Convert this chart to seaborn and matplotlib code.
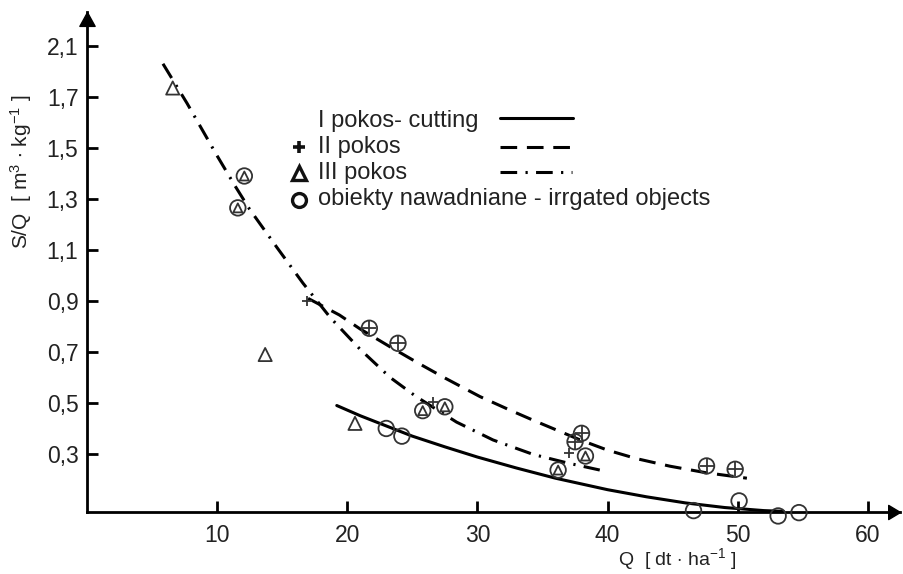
import matplotlib
matplotlib.use("Agg")
import matplotlib.pyplot as plt
import numpy as np
import pandas as pd
import seaborn as sns

# ---------------- data ----------------
# I pokos (irrigated objects only, circles)
q_I = [23.0, 24.2, 46.6, 50.1, 53.1, 54.7]
sq_I = [0.40, 0.37, 0.078, 0.116, 0.057, 0.07]

# II pokos (+), irrigated flag -> drawn inside a circle
q_II = [16.9, 21.7, 23.9, 26.6, 38.0, 37.5, 37.0, 47.6, 49.8]
sq_II = [0.90, 0.793, 0.734, 0.505, 0.381, 0.348, 0.303, 0.253, 0.24]
irr_II = [0, 1, 1, 0, 1, 1, 0, 1, 1]

# III pokos (triangles)
q_III = [6.6, 12.1, 11.6, 13.7, 20.6, 25.8, 27.5, 36.2, 38.3]
sq_III = [1.735, 1.39, 1.265, 0.69, 0.42, 0.47, 0.485, 0.237, 0.292]
irr_III = [0, 1, 1, 0, 0, 1, 1, 1, 1]

# trend curves
curve_I_q = [19.2, 21.0, 23.0, 25.0, 27.5, 30.0, 33.0, 36.0, 40.0, 43.0, 46.0, 49.0, 52.0, 53.5]
curve_I_sq = [0.49, 0.45, 0.41, 0.37, 0.328, 0.288, 0.245, 0.205, 0.16, 0.132, 0.108, 0.09, 0.078, 0.075]

curve_II_q = [17.0, 19.4, 21.0, 23.3, 25.5, 27.5, 30.2, 32.5, 34.3, 37.9, 40.0, 42.2, 44.8, 47.5, 50.7]
curve_II_sq = [0.91, 0.845, 0.79, 0.72, 0.655, 0.598, 0.525, 0.472, 0.432, 0.355, 0.315, 0.282, 0.252, 0.227, 0.205]

curve_III_q = [5.85, 7.7, 10.0, 11.4, 12.5, 14.6, 16.6, 18.7, 21.0, 23.3, 25.3, 28.4, 31.2, 34.3, 36.9, 39.4]
curve_III_sq = [1.83, 1.675, 1.47, 1.35, 1.26, 1.11, 0.97, 0.835, 0.71, 0.60, 0.525, 0.425, 0.355, 0.298, 0.265, 0.237]

x_ticks = [10, 20, 30, 40, 50, 60]
x_tick_labels = ["10", "20", "30", "40", "50", "60"]
y_ticks = [0.3, 0.5, 0.7, 0.9, 1.1, 1.3, 1.5, 1.7, 1.9]
y_tick_labels = ["0,3", "0,5", "0,7", "0,9", "1,1", "1,3", "1,5", "1,7", "2,1"]

legend_labels = ["I pokos- cutting", "II pokos", "III pokos",
                 "obiekty nawadniane - irrgated objects"]

# ---------------- styling ----------------
sns.set_style("ticks")
plt.rcParams["font.family"] = ["Liberation Sans", "DejaVu Sans"]
plt.rcParams["mathtext.fontset"] = "custom"
plt.rcParams["mathtext.rm"] = "Liberation Sans"
plt.rcParams["mathtext.it"] = "Liberation Sans"
plt.rcParams["lines.scale_dashes"] = False

TXT = "#222222"
MK = "#333333"

fig = plt.figure(figsize=(9.04, 5.74), dpi=100)
W, H = 904, 574
x0, y0, x1, y1 = 86.8, 512, 900, 12
ax = fig.add_axes([x0 / W, (H - y0) / H, (x1 - x0) / W, (y0 - y1) / H])
ax.set_xlim(0, 62.46)
ax.set_ylim(0.0725, 2.033)

for s in ["top", "right"]:
    ax.spines[s].set_visible(False)
for s in ["left", "bottom"]:
    ax.spines[s].set_linewidth(2.0)
    ax.spines[s].set_color("black")

# arrow heads on the axes
arrow = [(0, 0), (-1, 0.6), (-1, -0.6), (0, 0)]
ax.plot([1], [0], marker=arrow, ms=17, color="black", transform=ax.transAxes, clip_on=False)
arrow_up = [(0, 0), (0.55, -1), (-0.55, -1), (0, 0)]
ax.plot([0], [1], marker=arrow_up, ms=20, color="black", transform=ax.transAxes, clip_on=False)

# ---------------- curves ----------------
dash_II = (0, (12, 7))
dashdot_III = (0, (12, 6, 1.6, 6))
sns.lineplot(x=curve_I_q, y=curve_I_sq, ax=ax, color="black", lw=2.2, linestyle="-", clip_on=False)
sns.lineplot(x=curve_II_q, y=curve_II_sq, ax=ax, color="black", lw=2.2, linestyle=dash_II)
sns.lineplot(x=curve_III_q, y=curve_III_sq, ax=ax, color="black", lw=2.2, linestyle=dashdot_III)

# ---------------- points ----------------
dfII = pd.DataFrame({"q": q_II, "sq": sq_II, "irr": irr_II})
dfIII = pd.DataFrame({"q": q_III, "sq": sq_III, "irr": irr_III})
dfI = pd.DataFrame({"q": q_I, "sq": sq_I})

circ = pd.concat([dfI[["q", "sq"]],
                  dfII.loc[dfII.irr == 1, ["q", "sq"]],
                  dfIII.loc[dfIII.irr == 1, ["q", "sq"]]])
sns.scatterplot(data=circ, x="q", y="sq", ax=ax, marker="o", s=125,
                facecolor="none", edgecolor=MK, linewidth=1.3, clip_on=False, zorder=4)

sns.scatterplot(data=dfII[dfII.irr == 1], x="q", y="sq", ax=ax, marker="+", s=90,
                color=MK, linewidth=1.3, clip_on=False, zorder=4)
sns.scatterplot(data=dfII[dfII.irr == 0], x="q", y="sq", ax=ax, marker="+", s=60,
                color=MK, linewidth=1.3, clip_on=False, zorder=4)
sns.scatterplot(data=dfIII[dfIII.irr == 1], x="q", y="sq", ax=ax, marker="^", s=42,
                facecolor="none", edgecolor=MK, linewidth=1.3, clip_on=False, zorder=4)
sns.scatterplot(data=dfIII[dfIII.irr == 0], x="q", y="sq", ax=ax, marker="^", s=90,
                facecolor="none", edgecolor=MK, linewidth=1.3, clip_on=False, zorder=4)

# ---------------- ticks / labels ----------------
ax.set_xticks(x_ticks)
ax.set_xticklabels(x_tick_labels)
ax.set_yticks(y_ticks)
ax.set_yticklabels(y_tick_labels)
ax.tick_params(axis="both", direction="in", length=8, width=2.0, labelsize=16.5,
               labelcolor=TXT, color="black")
ax.tick_params(axis="x", pad=9)
ax.tick_params(axis="y", pad=6)

ax.set_xlabel(r"Q  [ dt $\cdot$ ha$^{-1}$ ]", fontsize=14, color=TXT)
ax.set_ylabel(r"S/Q  [ m$^{3}$ $\bullet$ kg$^{-1}$ ]", fontsize=15, color=TXT)
ax.xaxis.set_label_coords((677 - x0) / (x1 - x0), (y0 - 546) / (y0 - y1))
ax.yaxis.set_label_coords((34 - x0) / (x1 - x0), (y0 - 172) / (y0 - y1))


# ---------------- custom legend ----------------
def fx(px):
    return (px - x0) / (x1 - x0)


def fy(py):
    return (y0 - py) / (y0 - y1)


rows = [121, 147, 173, 199]
for lab, r in zip(legend_labels, rows):
    ax.text(fx(318), fy(r), lab, transform=ax.transAxes, fontsize=17,
            color=TXT, va="center", ha="left")

ax.plot([fx(500), fx(573)], [fy(118), fy(118)], transform=ax.transAxes,
        color="black", lw=2.2, linestyle="-")
ax.plot([fx(500), fx(570)], [fy(147), fy(147)], transform=ax.transAxes,
        color="black", lw=2.2, linestyle=dash_II)
ax.plot([fx(500), fx(572)], [fy(172), fy(172)], transform=ax.transAxes,
        color="black", lw=2.2, linestyle=dashdot_III)

ax.plot([fx(299)], [fy(147)], transform=ax.transAxes, marker="+", ms=9,
        mew=2.6, color="#111111", clip_on=False)
ax.plot([fx(299)], [fy(173)], transform=ax.transAxes, marker="^", ms=10,
        mew=2.4, mfc="none", mec="#111111", clip_on=False)
ax.plot([fx(299)], [fy(200)], transform=ax.transAxes, marker="o", ms=10,
        mew=2.4, mfc="none", mec="#111111", clip_on=False)

fig.savefig("out.png", dpi=100)
